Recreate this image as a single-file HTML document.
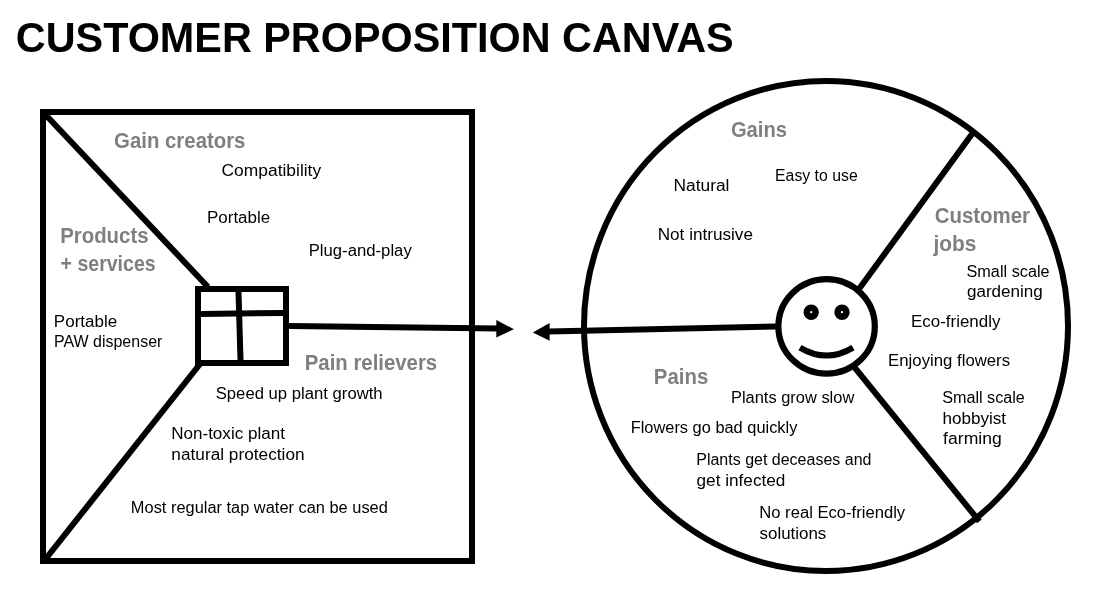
<!DOCTYPE html>
<html><head><meta charset="utf-8"><style>
html,body{margin:0;padding:0;background:#fff;width:1097px;height:590px;overflow:hidden}
svg{display:block}
.wrap{will-change:transform;width:1097px;height:590px}
text{font-family:"Liberation Sans", sans-serif;white-space:pre}
</style></head><body>
<div class="wrap"><svg width="1097" height="590" viewBox="0 0 1097 590">

<g fill="none" stroke="#000" stroke-width="6">
<rect x="43" y="112" width="429" height="449"/>
<line x1="43" y1="112" x2="208" y2="287"/>
<line x1="44" y1="561" x2="200" y2="364"/>
<rect x="198" y="289" width="88" height="74"/>
<line x1="201" y1="314" x2="283" y2="313"/>
<line x1="238.5" y1="292" x2="240.5" y2="360"/>
<line x1="289" y1="326" x2="498" y2="328.6"/>
<line x1="549" y1="331.5" x2="777" y2="326.5"/>
<ellipse cx="826" cy="326" rx="242" ry="245"/>
<ellipse cx="826.6" cy="326.4" rx="48.2" ry="47.2" stroke-width="6.2"/>
<path d="M800,347.6 Q826.5,363.5 853,347.6"/>
<line x1="859" y1="289" x2="972" y2="134"/>
<line x1="855" y1="368" x2="977.5" y2="519" stroke-linecap="square"/>
<circle cx="811.2" cy="312.2" r="4.4" stroke-width="6.6"/>
<circle cx="842" cy="312.2" r="4.4" stroke-width="6.6"/>
</g>
<polygon points="496.3,320 513.9,329.2 496.3,337.4" fill="#000"/>
<polygon points="532.8,332.5 549.6,322.9 549.6,340.7" fill="#000"/>

<g>
<text id="t0" x="15.79" y="52.1" font-size="42.5" font-weight="bold" fill="#000" textLength="717.94" lengthAdjust="spacingAndGlyphs">CUSTOMER PROPOSITION CANVAS</text>
<text id="t1" x="114.11" y="147.6" font-size="21.4" font-weight="bold" fill="#7f7f7f" textLength="131.34" lengthAdjust="spacingAndGlyphs">Gain creators</text>
<text id="t2" x="60.17" y="242.5" font-size="21.4" font-weight="bold" fill="#7f7f7f" textLength="88.40" lengthAdjust="spacingAndGlyphs">Products</text>
<text id="t3" x="60.58" y="270.5" font-size="21.4" font-weight="bold" fill="#7f7f7f" textLength="95.08" lengthAdjust="spacingAndGlyphs">+ services</text>
<text id="t4" x="304.74" y="369.7" font-size="21.4" font-weight="bold" fill="#7f7f7f" textLength="132.47" lengthAdjust="spacingAndGlyphs">Pain relievers</text>
<text id="t5" x="730.91" y="136.6" font-size="21.4" font-weight="bold" fill="#7f7f7f" textLength="56.12" lengthAdjust="spacingAndGlyphs">Gains</text>
<text id="t6" x="934.68" y="223.2" font-size="21.4" font-weight="bold" fill="#7f7f7f" textLength="95.39" lengthAdjust="spacingAndGlyphs">Customer</text>
<text id="t7" x="933.44" y="250.8" font-size="21.4" font-weight="bold" fill="#7f7f7f" textLength="42.86" lengthAdjust="spacingAndGlyphs">jobs</text>
<text id="t8" x="653.84" y="383.5" font-size="21.4" font-weight="bold" fill="#7f7f7f" textLength="54.41" lengthAdjust="spacingAndGlyphs">Pains</text>
<text id="t9" x="221.54" y="175.8" font-size="15.8" font-weight="normal" fill="#000" textLength="99.64" lengthAdjust="spacingAndGlyphs">Compatibility</text>
<text id="t10" x="206.95" y="223.1" font-size="15.8" font-weight="normal" fill="#000" textLength="63.29" lengthAdjust="spacingAndGlyphs">Portable</text>
<text id="t11" x="308.66" y="255.8" font-size="15.8" font-weight="normal" fill="#000" textLength="103.12" lengthAdjust="spacingAndGlyphs">Plug-and-play</text>
<text id="t12" x="53.88" y="326.8" font-size="15.8" font-weight="normal" fill="#000" textLength="63.29" lengthAdjust="spacingAndGlyphs">Portable</text>
<text id="t13" x="54.02" y="347.4" font-size="15.8" font-weight="normal" fill="#000" textLength="108.32" lengthAdjust="spacingAndGlyphs">PAW dispenser</text>
<text id="t14" x="215.72" y="398.5" font-size="15.8" font-weight="normal" fill="#000" textLength="166.90" lengthAdjust="spacingAndGlyphs">Speed up plant growth</text>
<text id="t15" x="171.15" y="439.2" font-size="15.8" font-weight="normal" fill="#000" textLength="113.83" lengthAdjust="spacingAndGlyphs">Non-toxic plant</text>
<text id="t16" x="171.39" y="460.4" font-size="15.8" font-weight="normal" fill="#000" textLength="133.21" lengthAdjust="spacingAndGlyphs">natural protection</text>
<text id="t17" x="130.88" y="513.3" font-size="15.8" font-weight="normal" fill="#000" textLength="256.96" lengthAdjust="spacingAndGlyphs">Most regular tap water can be used</text>
<text id="t18" x="775.09" y="181.2" font-size="15.8" font-weight="normal" fill="#000" textLength="82.61" lengthAdjust="spacingAndGlyphs">Easy to use</text>
<text id="t19" x="673.44" y="190.7" font-size="15.8" font-weight="normal" fill="#000" textLength="56.06" lengthAdjust="spacingAndGlyphs">Natural</text>
<text id="t20" x="657.70" y="240" font-size="15.8" font-weight="normal" fill="#000" textLength="95.30" lengthAdjust="spacingAndGlyphs">Not intrusive</text>
<text id="t21" x="966.51" y="276.5" font-size="15.8" font-weight="normal" fill="#000" textLength="83.07" lengthAdjust="spacingAndGlyphs">Small scale</text>
<text id="t22" x="966.91" y="296.9" font-size="15.8" font-weight="normal" fill="#000" textLength="75.89" lengthAdjust="spacingAndGlyphs">gardening</text>
<text id="t23" x="910.98" y="326.7" font-size="15.8" font-weight="normal" fill="#000" textLength="89.50" lengthAdjust="spacingAndGlyphs">Eco-friendly</text>
<text id="t24" x="888.12" y="365.9" font-size="15.8" font-weight="normal" fill="#000" textLength="121.95" lengthAdjust="spacingAndGlyphs">Enjoying flowers</text>
<text id="t25" x="942.20" y="402.8" font-size="15.8" font-weight="normal" fill="#000" textLength="82.66" lengthAdjust="spacingAndGlyphs">Small scale</text>
<text id="t26" x="942.40" y="423.8" font-size="15.8" font-weight="normal" fill="#000" textLength="63.73" lengthAdjust="spacingAndGlyphs">hobbyist</text>
<text id="t27" x="943.14" y="444.4" font-size="15.8" font-weight="normal" fill="#000" textLength="58.62" lengthAdjust="spacingAndGlyphs">farming</text>
<text id="t28" x="730.96" y="402.8" font-size="15.8" font-weight="normal" fill="#000" textLength="123.33" lengthAdjust="spacingAndGlyphs">Plants grow slow</text>
<text id="t29" x="630.69" y="432.9" font-size="15.8" font-weight="normal" fill="#000" textLength="166.70" lengthAdjust="spacingAndGlyphs">Flowers go bad quickly</text>
<text id="t30" x="696.22" y="465.1" font-size="15.8" font-weight="normal" fill="#000" textLength="175.25" lengthAdjust="spacingAndGlyphs">Plants get deceases and</text>
<text id="t31" x="696.57" y="485.5" font-size="15.8" font-weight="normal" fill="#000" textLength="88.82" lengthAdjust="spacingAndGlyphs">get infected</text>
<text id="t32" x="759.28" y="518.2" font-size="15.8" font-weight="normal" fill="#000" textLength="145.92" lengthAdjust="spacingAndGlyphs">No real Eco-friendly</text>
<text id="t33" x="759.54" y="538.7" font-size="15.8" font-weight="normal" fill="#000" textLength="66.79" lengthAdjust="spacingAndGlyphs">solutions</text>
</g>
</svg></div>
</body></html>
